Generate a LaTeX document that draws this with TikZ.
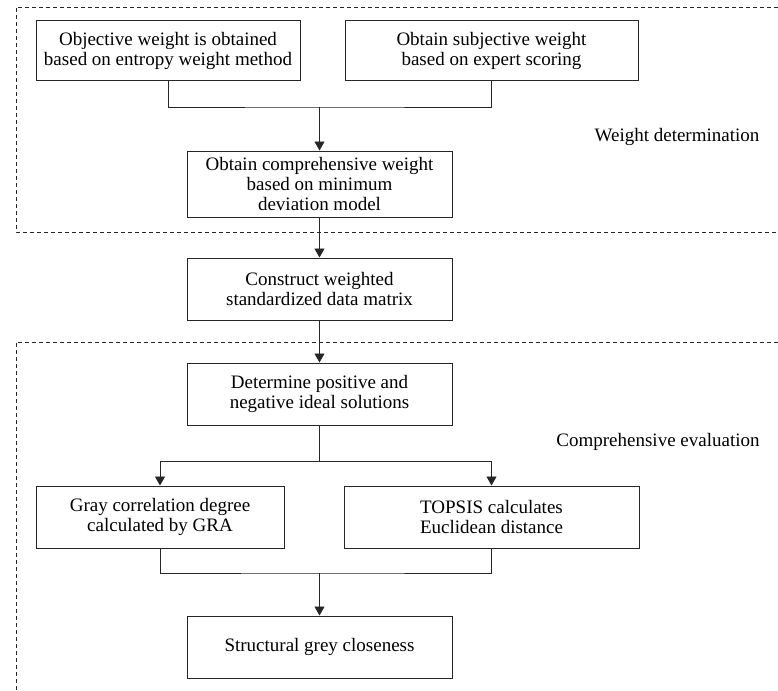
\documentclass[tikz,border=0pt]{standalone}
\usepackage{fontspec}
\setmainfont{Liberation Serif}
\usetikzlibrary{arrows.meta}
\begin{document}
\begin{tikzpicture}[x=1pt,y=-1pt,
  box/.style={draw=black!85, line width=1pt, align=center, inner sep=2pt,
    font=\fontsize{19}{20}\selectfont},
  lbl/.style={font=\fontsize{19}{20}\selectfont, inner sep=0pt},
  conn/.style={draw=black!85, line width=0.9pt},
  arr/.style={conn, -{Triangle[length=9pt,width=10pt]}},
  region/.style={draw=black!85, line width=0.9pt, dash pattern=on 4pt off 3pt}]
\useasboundingbox (0,0) rectangle (778,690);
\fill[white] (0,0) rectangle (778,690);
% dashed regions
\draw[region] (778,7) -- (16,7) -- (16,232) -- (778,232);
\draw[region] (778,342) -- (16,342) -- (16,690);
% nodes
\node[box, minimum width=264pt, minimum height=60pt] (n1) at (168,51) {Objective weight is obtained\\based on entropy weight method};
\node[box, minimum width=293pt, minimum height=60pt] (n2) at (491.5,51) {Obtain subjective weight\\based on expert scoring};
\node[box, minimum width=265pt, minimum height=66pt] (n3) at (319.5,184) {Obtain comprehensive weight\\based on minimum\\deviation model};
\node[box, minimum width=265pt, minimum height=62pt] (n4) at (319.5,289) {Construct weighted\\standardized data matrix};
\node[box, minimum width=265pt, minimum height=62pt] (n5) at (319.5,394) {Determine positive and\\negative ideal solutions};
\node[box, minimum width=248pt, minimum height=62pt] (n6) at (160,517) {Gray correlation degree\\calculated by GRA};
\node[box, minimum width=295pt, minimum height=62pt] (n7) at (491.5,517) {TOPSIS calculates\\Euclidean distance};
\node[box, minimum width=265pt, minimum height=62pt] (n8) at (319.5,647) {Structural grey closeness};
\node[lbl] (l1) at (677,137) {Weight determination};
\node[lbl] (l2) at (658,442) {Comprehensive evaluation};
% junction coordinates
\coordinate (j1) at (319.5,107);
\coordinate (j2) at (319.5,461);
\coordinate (j3) at (319.5,573);
% connectors
\draw[conn] (n1.south) |- (j1) -| (n2.south);
\draw[arr] (j1) -- (n3.north);
\draw[arr] (n3.south) -- (n4.north);
\draw[arr] (n4.south) -- (n5.north);
\draw[conn] (n5.south) -- (j2);
\draw[arr] (j2) -| (n6.north);
\draw[arr] (j2) -| (n7.north);
\draw[conn] (n6.south) |- (j3) -| (n7.south);
\draw[arr] (j3) -- (n8.north);
\end{tikzpicture}
\end{document}
